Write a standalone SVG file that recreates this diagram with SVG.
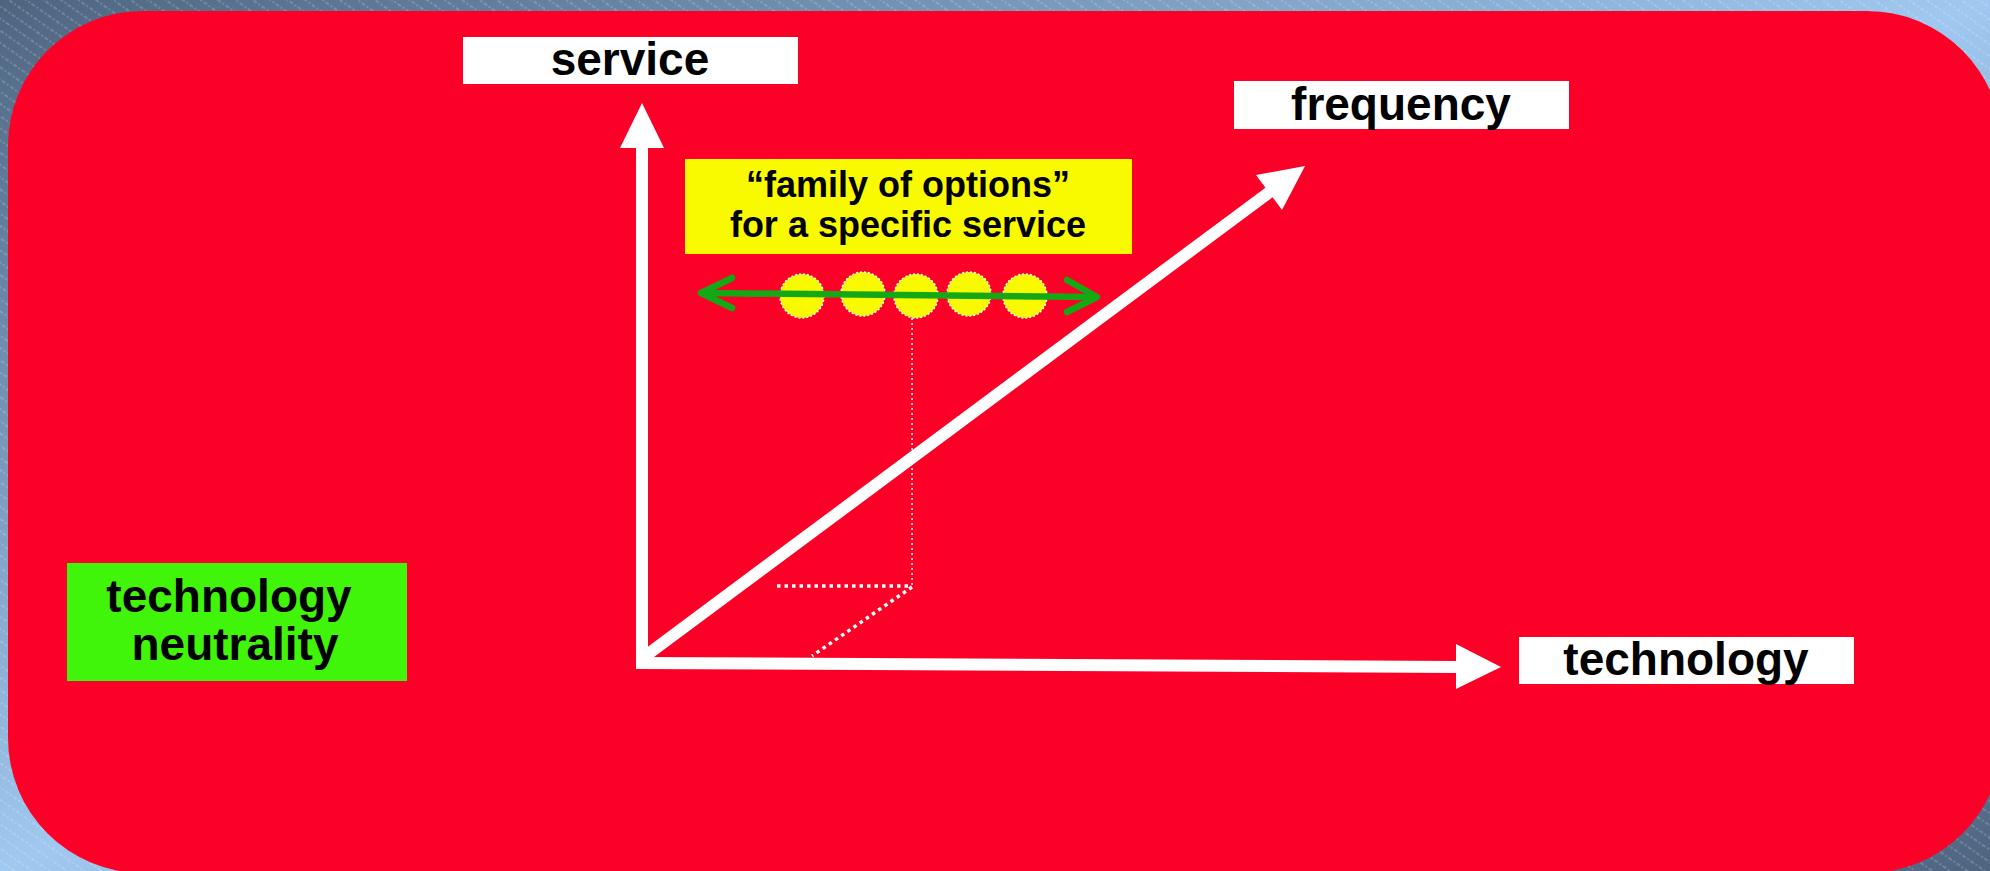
<svg xmlns="http://www.w3.org/2000/svg" width="1990" height="871" viewBox="0 0 1990 871">
<defs>
<linearGradient id="bg" x1="0" y1="0" x2="1" y2="1">
<stop offset="0" stop-color="#4e6580"/>
<stop offset="0.5" stop-color="#a0c8f0"/>
<stop offset="1" stop-color="#4e6580"/>
</linearGradient>
<pattern id="hatch" width="10" height="10" patternUnits="userSpaceOnUse" patternTransform="rotate(35)">
<line x1="0" y1="5" x2="10" y2="5" stroke="#ffffff" stroke-opacity="0.35" stroke-width="1" stroke-dasharray="2 2"/>
</pattern>
<marker id="greenHead" viewBox="0 0 10 10" refX="9" refY="5" markerWidth="6" markerHeight="6" markerUnits="userSpaceOnUse" orient="auto-start-reverse">
<path d="M0,0 L9,5 L0,10" fill="none" stroke="#14a814" stroke-width="1"/>
</marker>
</defs>
<style>
.lbl { font-family: "Liberation Sans", Arial, sans-serif; font-weight: bold; fill: #000000; text-anchor: middle; }
.big { font-size: 46px; }
.mid { font-size: 36px; }
.axis { stroke: #ffffff; stroke-width: 12; fill: none; }
.head { fill: #ffffff; }
.opt { fill: #f9f900; stroke: #ffffff; stroke-width: 1.5; stroke-dasharray: 2 2; }
</style>
<rect x="0" y="0" width="1990" height="871" fill="url(#bg)"/>
<rect x="0" y="0" width="1990" height="871" fill="url(#hatch)"/>
<rect x="8" y="11" width="1994" height="862" rx="135" ry="135" fill="#fc0127"/>

<g id="connectors">
<line class="axis" x1="642" y1="663" x2="642" y2="146"/>
<polygon class="head" points="642,103 620,148 664,148"/>
<line class="axis" x1="636" y1="663" x2="1458" y2="667"/>
<polygon class="head" points="1501,667 1456,644 1456,689"/>
<line class="axis" x1="640" y1="660" x2="1271" y2="191"/>
<polygon class="head" points="1305,166 1256,175 1282,210"/>
<line x1="912" y1="318" x2="912" y2="586" stroke="#ffffff" stroke-width="1.5" stroke-dasharray="2 3"/>
<line x1="777" y1="586" x2="912" y2="586" stroke="#ffffff" stroke-width="3.5" stroke-dasharray="3.5 4"/>
<line x1="912" y1="587" x2="812" y2="656" stroke="#ffffff" stroke-width="3.5" stroke-dasharray="3.5 4"/>
</g>

<g id="options">
<circle class="opt" cx="802" cy="296" r="22"/>
<circle class="opt" cx="863" cy="294" r="22"/>
<circle class="opt" cx="916" cy="296" r="22"/>
<circle class="opt" cx="969" cy="294" r="22"/>
<circle class="opt" cx="1025" cy="296" r="22"/>
</g>

<g id="range-arrow">
<line x1="702" y1="293" x2="1096" y2="297" stroke="#14a814" stroke-width="6.5"/>
<polyline points="732,278 701,293 732,308" fill="none" stroke="#14a814" stroke-width="6.5" stroke-linecap="round" stroke-linejoin="round"/>
<polyline points="1067,280 1097,297 1067,312" fill="none" stroke="#14a814" stroke-width="6.5" stroke-linecap="round" stroke-linejoin="round"/>
</g>

<g id="service">
<rect x="463" y="37" width="335" height="47" fill="#ffffff"/>
<text class="lbl big" x="630" y="75">service</text>
</g>

<g id="frequency">
<rect x="1234" y="81" width="335" height="48" fill="#ffffff"/>
<text class="lbl big" x="1401" y="120">frequency</text>
</g>

<g id="technology">
<rect x="1519" y="637" width="335" height="47" fill="#ffffff"/>
<text class="lbl big" x="1686" y="675">technology</text>
</g>

<g id="family">
<rect x="685" y="159" width="447" height="95" fill="#f9f900"/>
<text class="lbl mid" x="908" y="197">“family of options”</text>
<text class="lbl mid" x="908" y="237">for a specific service</text>
</g>

<g id="neutrality">
<rect x="67" y="563" width="340" height="118" fill="#40f40a"/>
<text class="lbl big" x="229" y="612">technology</text>
<text class="lbl big" x="235" y="660">neutrality</text>
</g>
</svg>
